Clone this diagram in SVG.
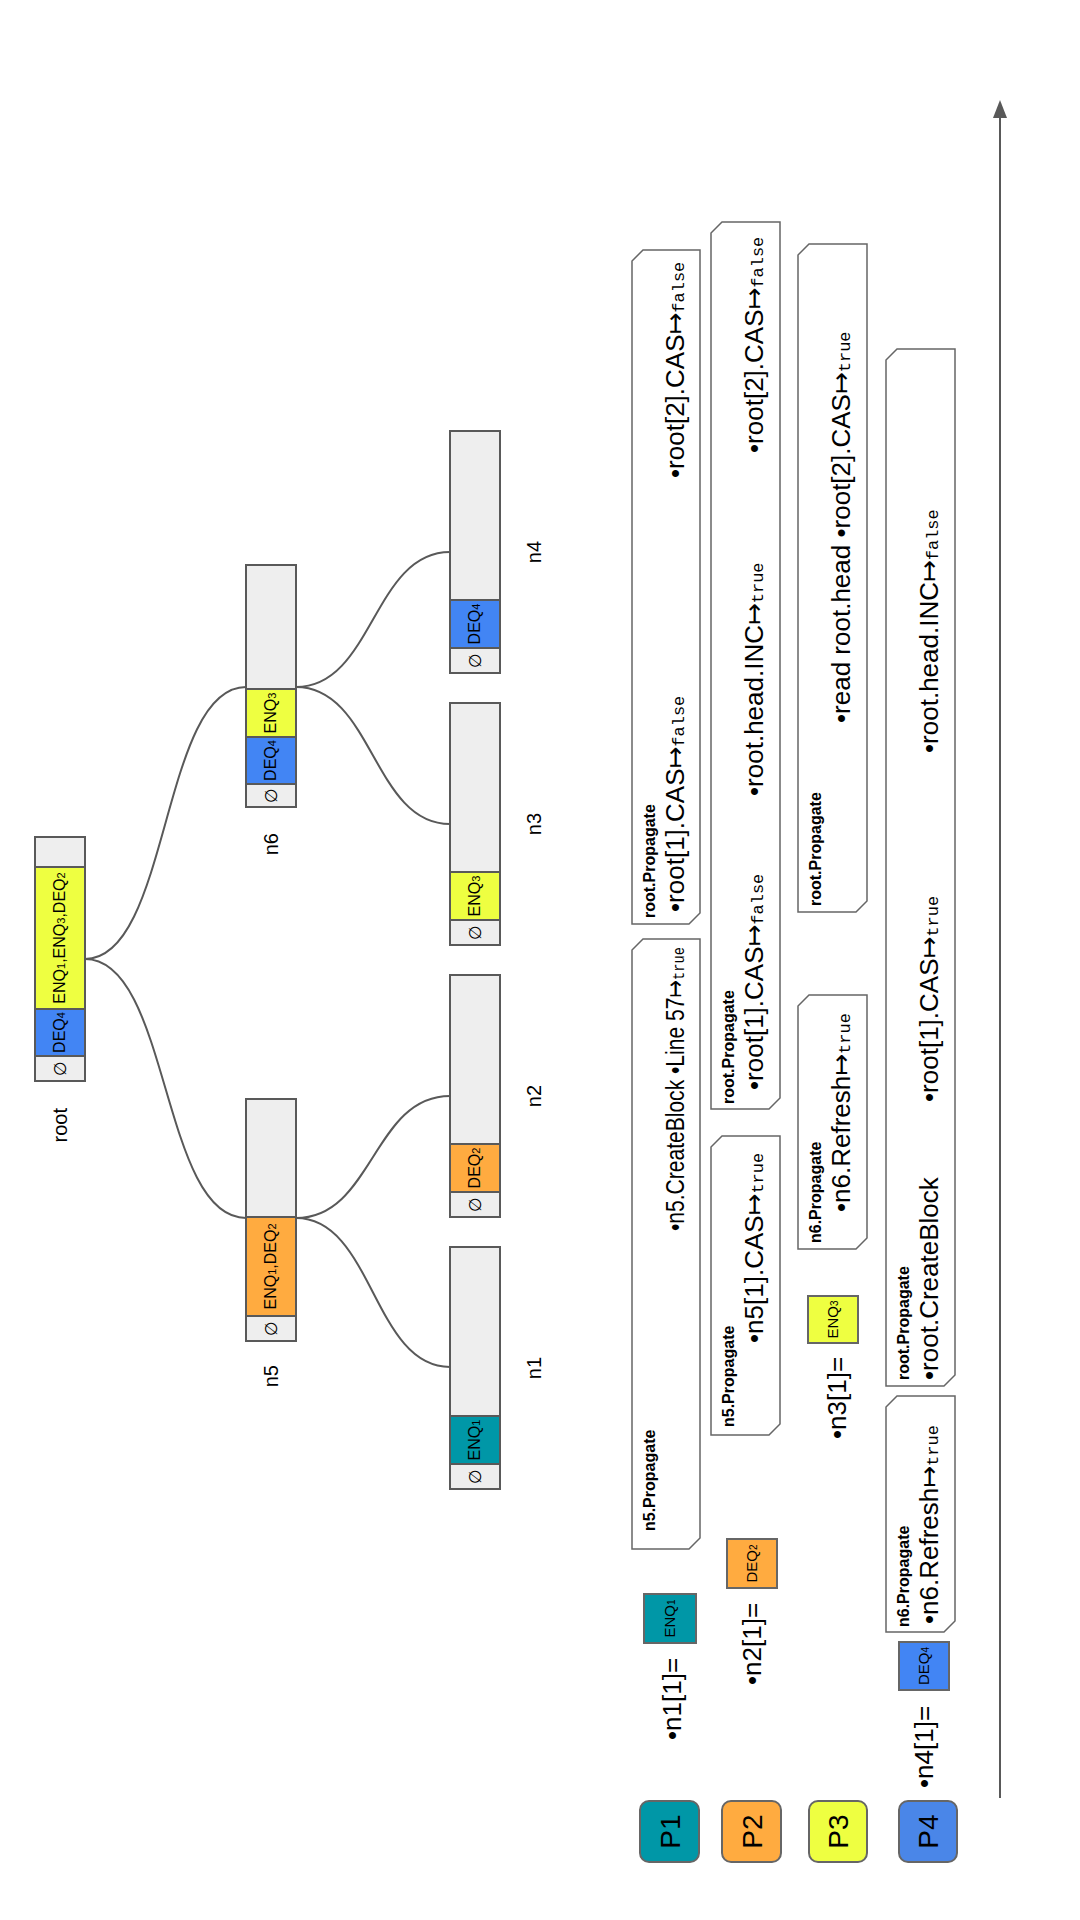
<svg xmlns="http://www.w3.org/2000/svg" width="1080" height="1920" viewBox="0 0 1080 1920">
<style>
text{font-family:"Liberation Sans",Arial,"DejaVu Sans",sans-serif;fill:#000}
.c{fill:#eeeeee;stroke:#595959;stroke-width:2}
.teal{fill:#0097a7}.orange{fill:#ffab40}.yellow{fill:#eeff41}.blue{fill:#4285f4}.blue2{fill:#4a86e8}
.ct{font-size:16px;text-anchor:middle}
.s{font-size:11px}
.e{font-family:"DejaVu Sans",sans-serif;font-size:17px;text-anchor:middle}
.nl{font-size:20px}
.edge{fill:none;stroke:#595959;stroke-width:2}
.op{fill:#ffffff;stroke:#666666;stroke-width:1.5}
.ol{font-size:16px;font-weight:bold}
.ot{font-size:26px}
.m{font-family:"Liberation Mono","DejaVu Sans Mono",monospace;font-size:17px}
.a{font-family:"DejaVu Sans",sans-serif}
.p{stroke:#666666;stroke-width:2}
.pt{font-size:28px;text-anchor:middle}
.vb{stroke:#666666;stroke-width:2}
.vt{font-size:15px;text-anchor:middle}
.vs{font-size:10px}
</style>
<defs>
<marker id="ah" markerUnits="userSpaceOnUse" markerWidth="18" markerHeight="14" refX="0" refY="7" orient="auto">
<path d="M0,0 L18,7 L0,14 Z" fill="#595959"/>
</marker>
</defs>
<rect x="0" y="0" width="1080" height="1920" fill="#ffffff"/>
<g transform="translate(0,1920) rotate(-90)">

<g id="edges">
<path class="edge" d="M961,85 C961,170 702,161 702,246"/>
<path class="edge" d="M961,85 C961,170 1233,161 1233,246"/>
<path class="edge" d="M702,296 C702,373 553,373 553,450"/>
<path class="edge" d="M702,296 C702,373 824,373 824,450"/>
<path class="edge" d="M1233,296 C1233,373 1096,373 1096,450"/>
<path class="edge" d="M1233,296 C1233,373 1368,373 1368,450"/>
<line class="edge" x1="122" y1="1000" x2="1802" y2="1000" marker-end="url(#ah)"/>
</g>

<g id="root">
<rect class="c" x="839" y="35" width="25" height="50"/>
<rect class="c blue" x="864" y="35" width="47" height="50"/>
<rect class="c yellow" x="911" y="35" width="142" height="50"/>
<rect class="c" x="1053" y="35" width="30" height="50"/>
<text class="e" x="851.5" y="66">∅</text>
<text class="ct" x="887.5" y="65">DEQ<tspan class="s">4</tspan></text>
<text class="ct" x="982" y="65">ENQ<tspan class="s">1</tspan>,ENQ<tspan class="s">3</tspan>,DEQ<tspan class="s">2</tspan></text>
<text class="nl" x="812" y="67" text-anchor="end">root</text>
</g>

<g id="n5">
<rect class="c" x="579" y="246" width="25" height="50"/>
<rect class="c orange" x="604" y="246" width="99" height="50"/>
<rect class="c" x="703" y="246" width="118" height="50"/>
<text class="e" x="591.5" y="277">∅</text>
<text class="ct" x="653.5" y="276">ENQ<tspan class="s">1</tspan>,DEQ<tspan class="s">2</tspan></text>
<text class="nl" x="555" y="278" text-anchor="end">n5</text>
</g>

<g id="n6">
<rect class="c" x="1113" y="246" width="23" height="50"/>
<rect class="c blue" x="1136" y="246" width="47" height="50"/>
<rect class="c yellow" x="1183" y="246" width="48" height="50"/>
<rect class="c" x="1231" y="246" width="124" height="50"/>
<text class="e" x="1124.5" y="277">∅</text>
<text class="ct" x="1159.5" y="276">DEQ<tspan class="s">4</tspan></text>
<text class="ct" x="1207" y="276">ENQ<tspan class="s">3</tspan></text>
<text class="nl" x="1087" y="278" text-anchor="end">n6</text>
</g>

<g id="n1">
<rect class="c" x="431" y="450" width="25" height="50"/>
<rect class="c teal" x="456" y="450" width="48" height="50"/>
<rect class="c" x="504" y="450" width="169" height="50"/>
<text class="e" x="443.5" y="481">∅</text>
<text class="ct" x="480" y="480">ENQ<tspan class="s">1</tspan></text>
<text class="nl" x="552" y="541" text-anchor="middle">n1</text>
</g>

<g id="n2">
<rect class="c" x="703" y="450" width="25" height="50"/>
<rect class="c orange" x="728" y="450" width="48" height="50"/>
<rect class="c" x="776" y="450" width="169" height="50"/>
<text class="e" x="715.5" y="481">∅</text>
<text class="ct" x="752" y="480">DEQ<tspan class="s">2</tspan></text>
<text class="nl" x="824" y="541" text-anchor="middle">n2</text>
</g>

<g id="n3">
<rect class="c" x="975" y="450" width="25" height="50"/>
<rect class="c yellow" x="1000" y="450" width="48" height="50"/>
<rect class="c" x="1048" y="450" width="169" height="50"/>
<text class="e" x="987.5" y="481">∅</text>
<text class="ct" x="1024" y="480">ENQ<tspan class="s">3</tspan></text>
<text class="nl" x="1096" y="541" text-anchor="middle">n3</text>
</g>

<g id="n4">
<rect class="c" x="1247" y="450" width="25" height="50"/>
<rect class="c blue" x="1272" y="450" width="48" height="50"/>
<rect class="c" x="1320" y="450" width="169" height="50"/>
<text class="e" x="1259.5" y="481">∅</text>
<text class="ct" x="1296" y="480">DEQ<tspan class="s">4</tspan></text>
<text class="nl" x="1368" y="541" text-anchor="middle">n4</text>
</g>

<g id="P1">
<rect class="p teal" x="58" y="640" width="61" height="59" rx="9"/>
<text class="pt" x="88.5" y="680">P1</text>
</g>
<g id="P2">
<rect class="p orange" x="58" y="722" width="61" height="59" rx="9"/>
<text class="pt" x="88.5" y="762">P2</text>
</g>
<g id="P3">
<rect class="p yellow" x="58" y="809" width="61" height="58" rx="9"/>
<text class="pt" x="88.5" y="848">P3</text>
</g>
<g id="P4">
<rect class="p blue2" x="58" y="899" width="61" height="58" rx="9"/>
<text class="pt" x="88.5" y="938">P4</text>
</g>

<g id="v1">
<text class="ot" x="180" y="681">•n1[1]=</text>
<rect class="vb teal" x="277" y="644" width="49" height="52"/>
<text class="vt" x="301.5" y="675">ENQ<tspan class="vs">1</tspan></text>
</g>
<g id="v2">
<text class="ot" x="235" y="761">•n2[1]=</text>
<rect class="vb orange" x="332" y="727" width="49" height="50"/>
<text class="vt" x="356.5" y="757">DEQ<tspan class="vs">2</tspan></text>
</g>
<g id="v3">
<text class="ot" x="481" y="846">•n3[1]=</text>
<rect class="vb yellow" x="577" y="808" width="47" height="50"/>
<text class="vt" x="600.5" y="838">ENQ<tspan class="vs">3</tspan></text>
</g>
<g id="v4">
<text class="ot" x="132" y="933">•n4[1]=</text>
<rect class="vb blue" x="230" y="899" width="48" height="50"/>
<text class="vt" x="254" y="929">DEQ<tspan class="vs">4</tspan></text>
</g>

<g id="opA">
<path class="op" d="M371,632 L970,632 L981,643 L981,700 L382,700 L371,689 Z"/>
<text class="ol" x="389" y="655">n5.Propagate</text>
<text class="ot" x="689" y="684" textLength="284" lengthAdjust="spacingAndGlyphs">•n5.CreateBlock •Line 57<tspan class="a">↦</tspan><tspan class="m">true</tspan></text>
</g>
<g id="opB">
<path class="op" d="M996,632 L1659,632 L1670,643 L1670,700 L1007,700 L996,689 Z"/>
<text class="ol" x="1002" y="655">root.Propagate</text>
<text class="ot" x="1008" y="684">•root[1].CAS<tspan class="a">↦</tspan><tspan class="m">false</tspan></text>
<text class="ot" x="1442" y="684">•root[2].CAS<tspan class="a">↦</tspan><tspan class="m">false</tspan></text>
</g>
<g id="opC">
<path class="op" d="M485,711 L773,711 L784,722 L784,780 L496,780 L485,769 Z"/>
<text class="ol" x="493" y="734">n5.Propagate</text>
<text class="ot" x="577" y="763">•n5[1].CAS<tspan class="a">↦</tspan><tspan class="m">true</tspan></text>
</g>
<g id="opD">
<path class="op" d="M811,711 L1687,711 L1698,722 L1698,780 L822,780 L811,769 Z"/>
<text class="ol" x="816" y="734">root.Propagate</text>
<text class="ot" x="830" y="763">•root[1].CAS<tspan class="a">↦</tspan><tspan class="m">false</tspan></text>
<text class="ot" x="1124" y="763">•root.head.INC<tspan class="a">↦</tspan><tspan class="m">true</tspan></text>
<text class="ot" x="1467" y="763">•root[2].CAS<tspan class="a">↦</tspan><tspan class="m">false</tspan></text>
</g>
<g id="opE">
<path class="op" d="M671,798 L914,798 L925,809 L925,867 L682,867 L671,856 Z"/>
<text class="ol" x="677" y="821">n6.Propagate</text>
<text class="ot" x="708" y="850">•n6.Refresh<tspan class="a">↦</tspan><tspan class="m">true</tspan></text>
</g>
<g id="opF">
<path class="op" d="M1008,798 L1665,798 L1676,809 L1676,867 L1019,867 L1008,856 Z"/>
<text class="ol" x="1014" y="821">root.Propagate</text>
<text class="ot" x="1197" y="850">•read root.head •root[2].CAS<tspan class="a">↦</tspan><tspan class="m">true</tspan></text>
</g>
<g id="opG">
<path class="op" d="M288,886 L513,886 L524,897 L524,955 L299,955 L288,944 Z"/>
<text class="ol" x="293" y="909">n6.Propagate</text>
<text class="ot" x="296" y="938">•n6.Refresh<tspan class="a">↦</tspan><tspan class="m">true</tspan></text>
</g>
<g id="opH">
<path class="op" d="M534,886 L1560,886 L1571,897 L1571,955 L545,955 L534,944 Z"/>
<text class="ol" x="540" y="909">root.Propagate</text>
<text class="ot" x="540" y="938">•root.CreateBlock</text>
<text class="ot" x="818" y="938">•root[1].CAS<tspan class="a">↦</tspan><tspan class="m">true</tspan></text>
<text class="ot" x="1167" y="938">•root.head.INC<tspan class="a">↦</tspan><tspan class="m">false</tspan></text>
</g>

</g>
</svg>
